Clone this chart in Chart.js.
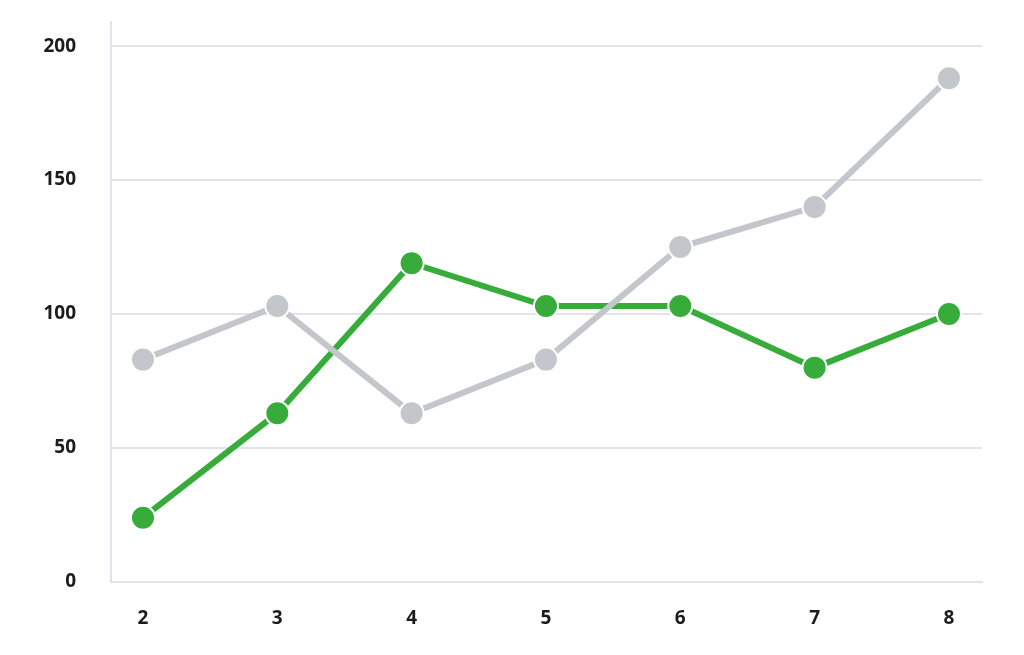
<!DOCTYPE html>
<html lang="en">
<head>
    <meta charset="UTF-8">
    <title>Line Chart</title>
    <script src="https://cdn.jsdelivr.net/npm/chart.js"></script>
    <style>
        * {
            margin: 0;
            padding: 0;
            box-sizing: border-box;
        }

        body {
            background: white;
            width: 1024px;
            height: 655px;
            overflow: hidden;
        }

        .chart-container {
            position: relative;
            width: 1024px;
            height: 655px;
        }
    </style>
</head>
<body>
    <div class="chart-container">
        <canvas id="line-chart"></canvas>
    </div>

    <script>
        const xValues = [2, 3, 4, 5, 6, 7, 8];
        const grayValues = [83, 103, 63, 83, 125, 140, 188];
        const greenValues = [24, 63, 119, 103, 103, 80, 100];
        const xTicks = [2, 3, 4, 5, 6, 7, 8];
        const yTicks = [0, 50, 100, 150, 200];

        const gridColor = '#e2e4e9';
        const tickFont = {
            family: '"Open Sans", sans-serif',
            size: 19,
            weight: 'bold'
        };

        function toPoints(values) {
            return values.map((v, i) => ({ x: xValues[i], y: v }));
        }

        const ctx = document.getElementById('line-chart').getContext('2d');

        new Chart(ctx, {
            type: 'line',
            data: {
                datasets: [
                    {
                        label: 'Gray',
                        data: toPoints(grayValues),
                        borderColor: '#c3c6cb',
                        backgroundColor: '#c3c6cb',
                        borderWidth: 6,
                        pointRadius: 12,
                        pointBorderColor: '#ffffff',
                        pointBorderWidth: 2,
                        tension: 0
                    },
                    {
                        label: 'Green',
                        data: toPoints(greenValues),
                        borderColor: '#38ac3a',
                        backgroundColor: '#38ac3a',
                        borderWidth: 6,
                        pointRadius: 12,
                        pointBorderColor: '#ffffff',
                        pointBorderWidth: 2,
                        tension: 0
                    }
                ]
            },
            options: {
                responsive: true,
                maintainAspectRatio: false,
                animation: false,
                layout: {
                    padding: { top: 22, right: 42, left: 0, bottom: 0 }
                },
                plugins: {
                    legend: { display: false },
                    tooltip: { enabled: false }
                },
                scales: {
                    x: {
                        type: 'linear',
                        min: 1.762,
                        max: 8.246,
                        afterBuildTicks: scale => {
                            scale.ticks = xTicks.map(v => ({ value: v }));
                        },
                        afterFit: scale => {
                            scale.height = 73;
                        },
                        grid: {
                            drawOnChartArea: false,
                            tickLength: 25,
                            tickColor: 'transparent'
                        },
                        border: {
                            color: gridColor,
                            width: 2
                        },
                        ticks: {
                            padding: 0,
                            color: '#1c1c1c',
                            font: tickFont
                        }
                    },
                    y: {
                        min: 0,
                        max: 209,
                        afterBuildTicks: scale => {
                            scale.ticks = yTicks.map(v => ({ value: v }));
                        },
                        afterFit: scale => {
                            scale.width = 111;
                        },
                        grid: {
                            color: gridColor,
                            lineWidth: 2,
                            tickLength: 35,
                            tickColor: 'transparent'
                        },
                        border: {
                            color: gridColor,
                            width: 2
                        },
                        ticks: {
                            padding: 0,
                            color: '#1c1c1c',
                            font: tickFont
                        }
                    }
                }
            }
        });
    </script>
</body>
</html>
